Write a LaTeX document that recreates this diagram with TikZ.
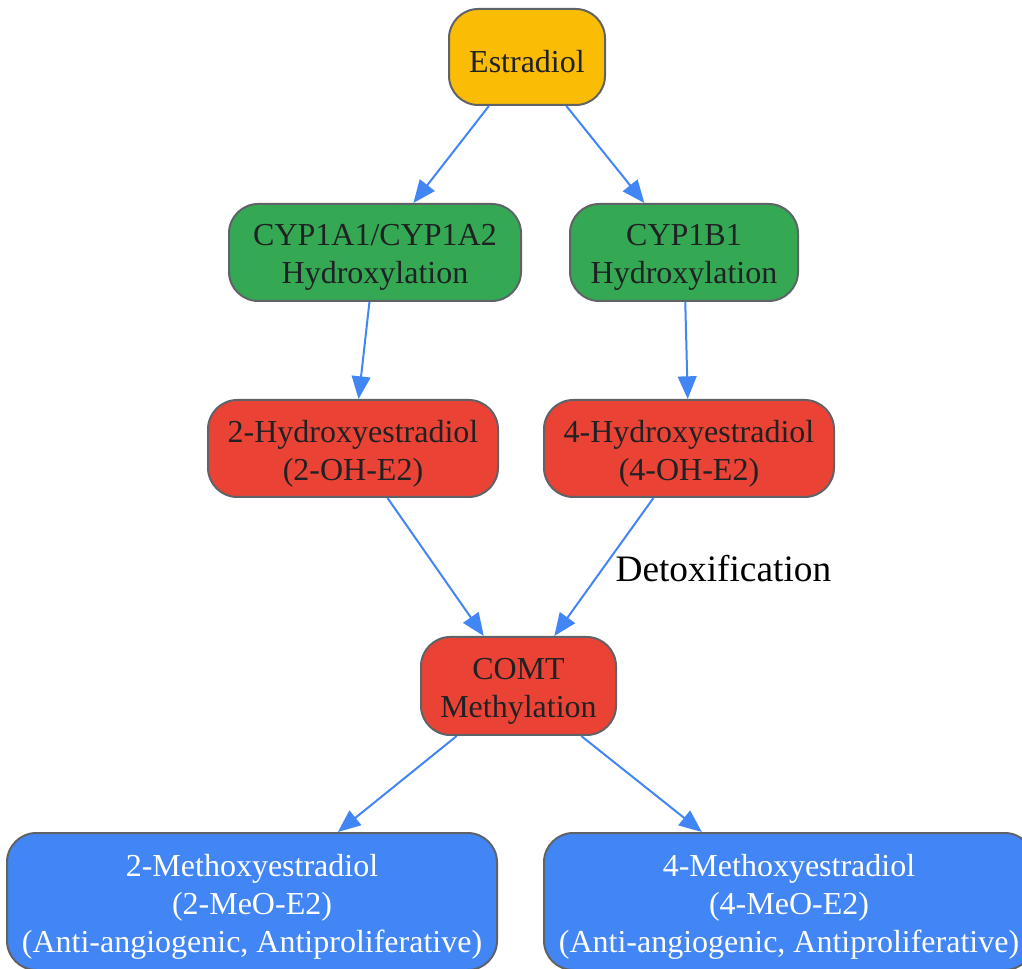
\documentclass[tikz,border=0pt]{standalone}
\usepackage{fontspec}
\setmainfont{Liberation Serif}
\usetikzlibrary{arrows.meta}
\definecolor{gyellow}{HTML}{FBBC05}
\definecolor{ggreen}{HTML}{34A853}
\definecolor{gred}{HTML}{EA4335}
\definecolor{gblue}{HTML}{4285F4}
\definecolor{gborder}{HTML}{5F6368}
\definecolor{gtext}{HTML}{202124}
\tikzset{
  box/.style={draw=gborder, line width=1.5pt, rounded corners=22pt, inner sep=0pt},
  txt/.style={align=center, inner sep=0pt, yshift=-3.75pt, text=gtext,
    font=\fontsize{24}{28.5}\selectfont},
  txtw/.style={txt, text=white},
  conn/.style={draw=gblue, line width=1.5pt, -{Triangle[length=17pt,width=14pt]}},
  lbl/.style={font=\fontsize{28}{32}\selectfont, text=black, inner sep=0pt}
}
\begin{document}
\begin{tikzpicture}[x=0.75pt,y=-0.75pt]
\useasboundingbox (0,0) rectangle (1022,969);
\node[box, fill=gyellow, minimum width=117pt, minimum height=72pt,
  label={[txt]center:{Estradiol}}] (e2) at (527,57) {};
\node[box, fill=ggreen, minimum width=219pt, minimum height=72.75pt,
  label={[txt]center:{CYP1A1/CYP1A2\\Hydroxylation}}] (cypa) at (375,252.5) {};
\node[box, fill=ggreen, minimum width=171pt, minimum height=72.75pt,
  label={[txt]center:{CYP1B1\\Hydroxylation}}] (cypb) at (684,252.5) {};
\node[box, fill=gred, minimum width=217.5pt, minimum height=72.75pt,
  label={[txt]center:{2-Hydroxyestradiol\\(2-OH-E2)}}] (oh2) at (353,448.5) {};
\node[box, fill=gred, minimum width=217.5pt, minimum height=72.75pt,
  label={[txt]center:{4-Hydroxyestradiol\\(4-OH-E2)}}] (oh4) at (689,448.5) {};
\node[box, fill=gred, minimum width=146.25pt, minimum height=73.5pt,
  label={[txt]center:{COMT\\Methylation}}] (comt) at (518.5,686) {};
\node[box, fill=gblue, minimum width=367.5pt, minimum height=102.75pt,
  label={[txtw]center:{2-Methoxyestradiol\\(2-MeO-E2)\\(Anti-angiogenic, Antiproliferative)}}] (meo2) at (252,901.5) {};
\node[box, fill=gblue, minimum width=367.5pt, minimum height=102.75pt,
  label={[txtw]center:{4-Methoxyestradiol\\(4-MeO-E2)\\(Anti-angiogenic, Antiproliferative)}}] (meo4) at (789,901.5) {};
\draw[conn] (e2) -- (cypa);
\draw[conn] (e2) -- (cypb);
\draw[conn] (cypa) -- (oh2);
\draw[conn] (cypb) -- (oh4);
\draw[conn] (oh2) -- (comt);
\draw[conn] (oh4) -- node[lbl, midway, anchor=west, xshift=8pt, yshift=-1.5pt] (detox) {Detoxification} (comt);
\draw[conn] (comt) -- (meo2);
\draw[conn] (comt) -- (meo4);
\end{tikzpicture}
\end{document}
